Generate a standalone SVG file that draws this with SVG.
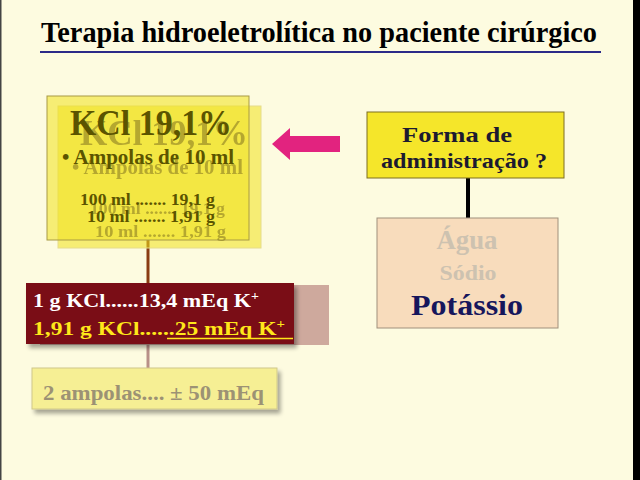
<svg xmlns="http://www.w3.org/2000/svg" width="640" height="480" viewBox="0 0 640 480">
<style>
text{font-family:"Liberation Serif","Times New Roman",serif;font-weight:bold}
.kcl{fill:#5b5400}
.kclg{fill:#8c7e22;opacity:.6}
.yb{fill:#f1e21c;fill-opacity:.55}
</style>
<defs>
<filter id="sh" x="-10%" y="-10%" width="130%" height="140%">
<feGaussianBlur in="SourceAlpha" stdDeviation="2"/>
<feOffset dx="3" dy="4"/>
<feComponentTransfer><feFuncA type="linear" slope="0.35"/></feComponentTransfer>
<feMerge><feMergeNode/><feMergeNode in="SourceGraphic"/></feMerge>
</filter>
</defs>
<rect width="640" height="480" fill="#fdfbe0"/>
<rect x="0" y="0" width="1.5" height="480" fill="#444"/>
<rect x="633" y="0" width="7" height="480" fill="#000"/>

<g id="title">
<text x="41" y="42" font-size="29" textLength="556" lengthAdjust="spacingAndGlyphs" fill="#000">Terapia hidroeletrolítica no paciente cirúrgico</text>
<line x1="40" y1="52" x2="601" y2="52" stroke="#2c2a88" stroke-width="2"/>
</g>

<g id="connectors">
<line x1="148" y1="240" x2="148" y2="283" stroke="#8a3c12" stroke-width="3"/>
<line x1="148" y1="344" x2="148" y2="368" stroke="#b89088" stroke-width="3"/>
<line x1="468" y1="178" x2="468" y2="218" stroke="#000" stroke-width="4"/>
<polygon points="272,144 290,128 290,136 340,136 340,152 290,152 290,160" fill="#e2237f"/>
</g>

<g id="kcl-box">
<rect x="58" y="106" width="203" height="142" class="yb" stroke="#e6dc8a" stroke-width="1"/>
<rect x="47" y="96" width="202" height="144" class="yb" stroke="#a89a44" stroke-width="1"/>
<text x="80" y="145" font-size="36" textLength="168" lengthAdjust="spacingAndGlyphs" class="kclg">KCl 19,1%</text>
<text x="70" y="135" font-size="36" textLength="162" lengthAdjust="spacingAndGlyphs" class="kcl">KCl 19,1%</text>
<text x="72" y="174" font-size="21" textLength="171" lengthAdjust="spacingAndGlyphs" class="kclg">• Ampolas de 10 ml</text>
<text x="62" y="164" font-size="21" textLength="172" lengthAdjust="spacingAndGlyphs" class="kcl">• Ampolas de 10 ml</text>
<text x="90" y="214" font-size="17" textLength="135" lengthAdjust="spacingAndGlyphs" class="kclg">100 ml ....... 19,1 g</text>
<text x="80" y="205" font-size="17" textLength="135" lengthAdjust="spacingAndGlyphs" class="kcl">100 ml ....... 19,1 g</text>
<text x="95" y="237" font-size="17" textLength="131" lengthAdjust="spacingAndGlyphs" class="kclg">10 ml .......  1,91 g</text>
<text x="87" y="222" font-size="17" textLength="128" lengthAdjust="spacingAndGlyphs" class="kcl">10 ml .......  1,91 g</text>
</g>

<g id="meq-box">
<rect x="40" y="285" width="289" height="60" fill="#c9a096" opacity="0.9"/>
<rect x="26" y="283" width="268" height="61" fill="#7a0c12" filter="url(#sh)"/>
<text x="33" y="307" font-size="19" fill="#ffffff" textLength="226" lengthAdjust="spacingAndGlyphs">1 g KCl......13,4 mEq K<tspan font-size="12" dy="-7">+</tspan></text>
<text x="33" y="335" font-size="19" fill="#ffe81a" textLength="252" lengthAdjust="spacingAndGlyphs">1,91 g KCl......25 mEq K<tspan font-size="12" dy="-7">+</tspan></text>
<line x1="167" y1="338.5" x2="293" y2="338.5" stroke="#ffe81a" stroke-width="1.5"/>
</g>

<g id="ampolas-box">
<rect x="32" y="368" width="245" height="41" fill="#f6ef94" stroke="#d0c88a" stroke-width="1" filter="url(#sh)"/>
<text x="43" y="400" font-size="22" fill="#9c9274" textLength="221" lengthAdjust="spacingAndGlyphs">2 ampolas.... ± 50 mEq</text>
</g>

<g id="forma-box">
<rect x="367" y="112" width="197" height="66" fill="#f5e62a" stroke="#7c6e22" stroke-width="1"/>
<text x="457" y="142" font-size="22" text-anchor="middle" fill="#1c1a30" textLength="110" lengthAdjust="spacingAndGlyphs">Forma de</text>
<text x="464" y="168" font-size="22" text-anchor="middle" fill="#1c1a30" textLength="166" lengthAdjust="spacingAndGlyphs">administração ?</text>
</g>

<g id="eletrolitos-box">
<rect x="377" y="218" width="181" height="110" fill="#f8dcbc" stroke="#a0907c" stroke-width="1"/>
<text x="467" y="249" font-size="27" text-anchor="middle" fill="#cdc2b0" textLength="61" lengthAdjust="spacingAndGlyphs">Água</text>
<text x="468" y="280" font-size="21" text-anchor="middle" fill="#cdc2b0" textLength="57" lengthAdjust="spacingAndGlyphs">Sódio</text>
<text x="467" y="315" font-size="30" text-anchor="middle" fill="#16165c" textLength="112" lengthAdjust="spacingAndGlyphs">Potássio</text>
</g>
</svg>
